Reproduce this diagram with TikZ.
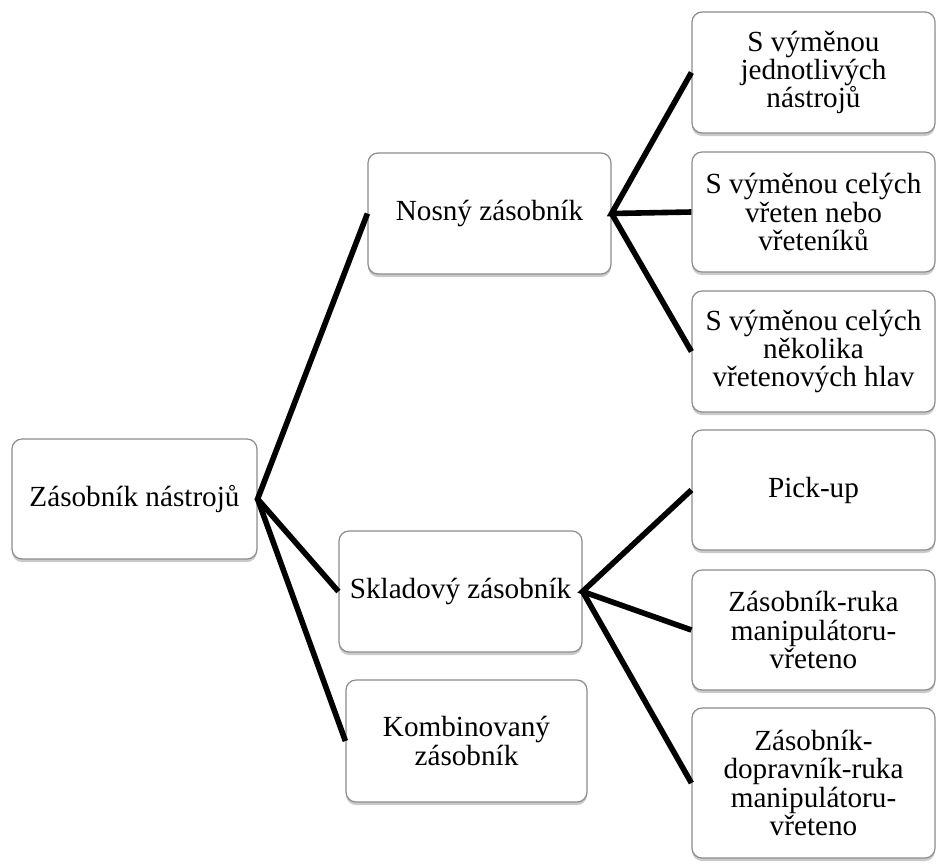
\documentclass[tikz,border=0pt]{standalone}
\usepackage{fontspec}
\setmainfont{Liberation Serif}
\usetikzlibrary{shadows}
\begin{document}
\begin{tikzpicture}[x=0.5pt,y=-0.5pt,
  box/.style={draw=black!45, line width=0.6pt, fill=white, rounded corners=5pt,
    align=center, inner sep=2pt, minimum width=121.5pt, minimum height=60.5pt,
    font=\fontsize{14.6}{14.2}\selectfont,
    drop shadow={shadow xshift=0pt, shadow yshift=-1.5pt, opacity=0.35, fill=black!60}},
  conn/.style={line width=2.8pt, black}]
\useasboundingbox (0,0) rectangle (936,863);
\node[box, minimum width=122.5pt, minimum height=60pt] (root) at (134.5,499) {Zásobník nástrojů};
\node[box] (nos) at (489.5,213.5) {Nosný zásobník};
\node[box] (skl) at (460.5,591.5) {Skladový zásobník};
\node[box, minimum width=120.5pt, minimum height=61pt] (kom) at (466.5,741) {Kombinovaný\\zásobník};
\node[box] (c1) at (813.5,72.5) {S výměnou\\jednotlivých\\nástrojů};
\node[box, minimum height=60pt] (c2) at (813.5,212) {S výměnou celých\\vřeten nebo\\vřeteníků};
\node[box] (c3) at (813.5,351.5) {S výměnou celých\\několika\\vřetenových hlav};
\node[box, minimum height=60pt] (c4) at (813.5,490) {Pick-up};
\node[box, minimum height=60pt] (c5) at (813.5,630) {Zásobník-ruka\\manipulátoru-\\vřeteno};
\node[box, minimum height=75pt] (c6) at (813.5,783) {Zásobník-\\dopravník-ruka\\manipulátoru-\\vřeteno};
\draw[conn] (nos.west) -- (root.east) -- (skl.west);
\draw[conn] (root.east) -- (kom.west);
\draw[conn] (c1.west) -- (nos.east) -- (c2.west);
\draw[conn] (nos.east) -- (c3.west);
\draw[conn] (c4.west) -- (skl.east) -- (c5.west);
\draw[conn] (skl.east) -- (c6.west);
\end{tikzpicture}
\end{document}
